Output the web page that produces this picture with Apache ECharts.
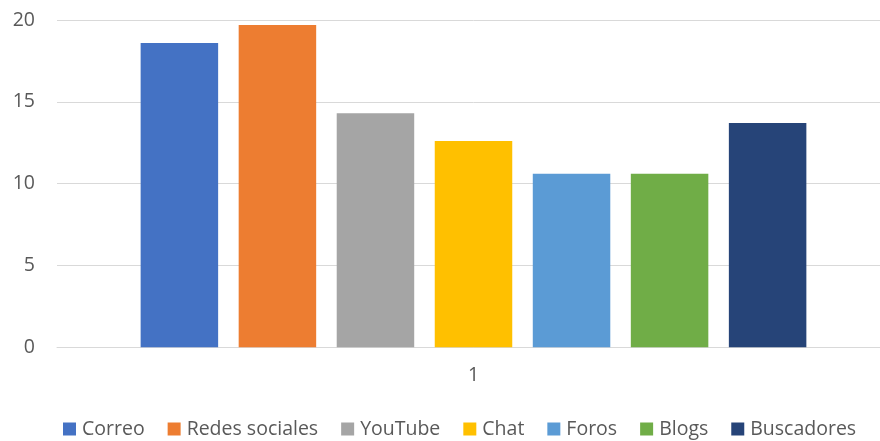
<!DOCTYPE html>
<html>
<head>
<meta charset="utf-8">
<script src="https://cdn.jsdelivr.net/npm/echarts@6/dist/echarts.min.js"></script>
<style>
  html, body { margin: 0; padding: 0; background: #fff; overflow: hidden; }
  #wrap { width: 880px; height: 441px; overflow: hidden; }
  /* plot area runs slightly past the right edge, so the canvas is wider than the view */
  #chart { width: 900px; height: 441px; }
</style>
</head>
<body>
<div id="wrap"><div id="chart"></div></div>
<script>
// Usage of internet services (single category "1")
const categories = ['1'];
const seriesNames = ['Correo', 'Redes sociales', 'YouTube', 'Chat', 'Foros', 'Blogs', 'Buscadores'];
const seriesValues = [18.6, 19.7, 14.3, 12.6, 10.6, 10.6, 13.7];
const seriesColors = ['#4472C4', '#ED7D31', '#A5A5A5', '#FFC000', '#5B9BD5', '#70AD47', '#264478'];
const yTicks = [0, 5, 10, 15, 20];

const fontFamily = '"Open Sans", "Noto Sans", sans-serif';
const textColor = '#595959';

const chart = echarts.init(document.getElementById('chart'), null, { renderer: 'canvas' });

chart.setOption({
  animation: false,
  backgroundColor: '#ffffff',
  textStyle: { fontFamily: fontFamily },
  grid: { left: 57, top: 20, width: 833, height: 327.3, containLabel: false },
  legend: {
    top: 419,
    left: 63,
    padding: 0,
    itemWidth: 13,
    itemHeight: 13,
    itemGap: 23,
    icon: 'rect',
    textStyle: { fontSize: 19.5, color: textColor, fontFamily: fontFamily, padding: [0, 0, 0, 1] },
    data: seriesNames
  },
  xAxis: {
    type: 'category',
    data: categories,
    axisLine: { show: true, lineStyle: { color: '#d9d9d9', width: 1 } },
    axisTick: { show: false },
    axisLabel: { color: textColor, fontSize: 19.5, margin: 18, fontFamily: fontFamily }
  },
  yAxis: {
    type: 'value',
    min: yTicks[0],
    max: yTicks[yTicks.length - 1],
    interval: 5,
    axisLine: { show: false },
    axisTick: { show: false },
    splitLine: { lineStyle: { color: '#d9d9d9', width: 1 } },
    axisLabel: { color: textColor, fontSize: 19.5, margin: 22, fontFamily: fontFamily }
  },
  series: seriesNames.map((name, i) => ({
    name: name,
    type: 'bar',
    data: [seriesValues[i]],
    barWidth: 77.5,
    barGap: '26.5%',
    itemStyle: { color: seriesColors[i] }
  }))
});
</script>
</body>
</html>
